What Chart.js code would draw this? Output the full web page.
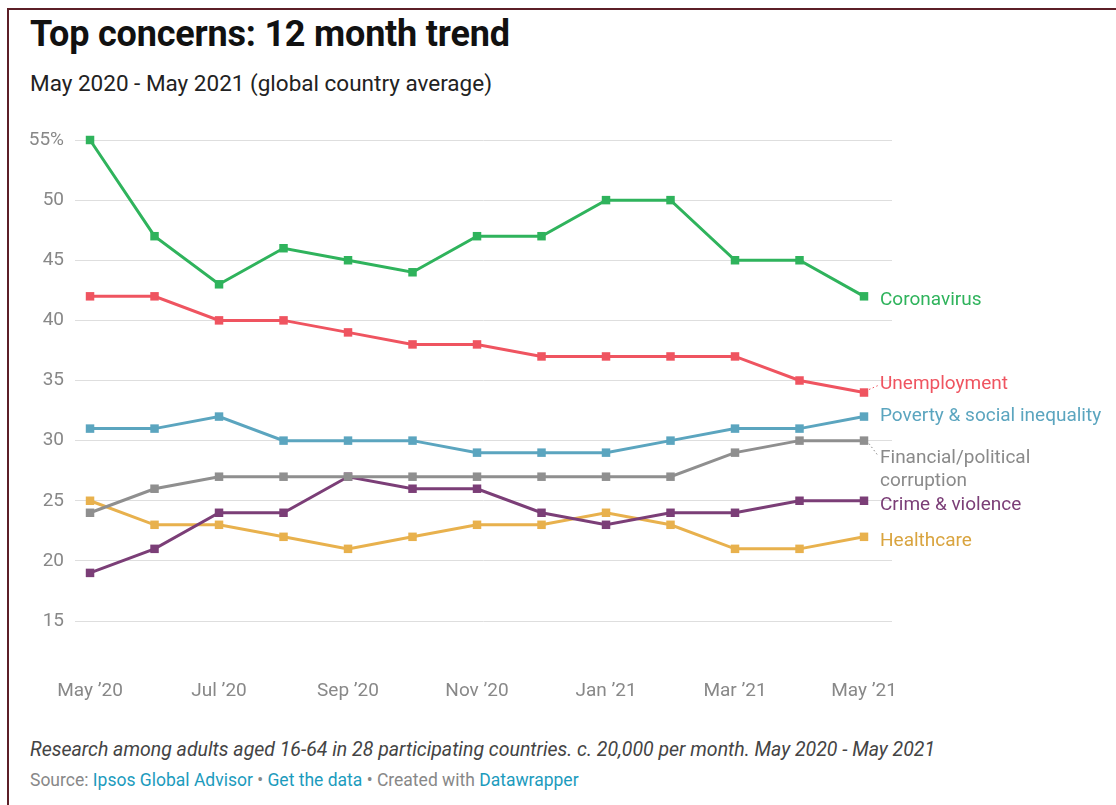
<!DOCTYPE html>
<html>
<head>
<meta charset="utf-8">
<script src="https://cdn.jsdelivr.net/npm/chart.js@4"></script>
<style>
  html, body { margin:0; padding:0; background:#fff; }
  body { width:1116px; height:805px; position:relative; overflow:hidden; font-family: Roboto, "Noto Sans", sans-serif; }
  .frame-top { position:absolute; left:7px; top:8px; width:1109px; height:2px; background:#5c1f27; }
  .frame-left { position:absolute; left:7px; top:8px; width:2px; height:797px; background:#5c1f27; }
  #title { position:absolute; left:30px; top:13px; font-size:36px; line-height:42px; font-weight:700; color:#111; letter-spacing:-0.2px; white-space:nowrap; }
  #subtitle { position:absolute; left:30px; top:70px; font-size:22.5px; line-height:26px; color:#222; white-space:nowrap; }
  #notes { position:absolute; left:30px; top:738px; font-size:19.5px; line-height:23px; font-style:italic; color:#444; white-space:nowrap; }
  #source { position:absolute; left:30px; top:770px; font-size:17.5px; line-height:21px; color:#888; white-space:nowrap; }
  #source a { color:#1c9bbd; text-decoration:none; }
  #wrap { position:absolute; left:0; top:100px; width:1116px; height:610px; }
</style>
</head>
<body>
<div class="frame-top"></div>
<div class="frame-left"></div>
<div id="title">Top concerns: 12 month trend</div>
<div id="subtitle">May 2020 - May 2021 (global country average)</div>
<div id="wrap"><canvas id="c"></canvas></div>
<div id="notes">Research among adults aged 16-64 in 28 participating countries. c. 20,000 per month. May 2020 - May 2021</div>
<div id="source">Source: <a>Ipsos Global Advisor</a> • <a>Get the data</a> • Created with <a>Datawrapper</a></div>
<script>
const months = ["May ’20","Jun ’20","Jul ’20","Aug ’20","Sep ’20","Oct ’20","Nov ’20","Dec ’20","Jan ’21","Feb ’21","Mar ’21","Apr ’21","May ’21"];
const xTickLabels = ["May ’20","Jul ’20","Sep ’20","Nov ’20","Jan ’21","Mar ’21","May ’21"];
const yTicks = [15,20,25,30,35,40,45,50,55];

const coronavirus  = [55,47,43,46,45,44,47,47,50,50,45,45,42];
const unemployment = [42,42,40,40,39,38,38,37,37,37,37,35,34];
const poverty      = [31,31,32,30,30,30,29,29,29,30,31,31,32];
const corruption   = [24,26,27,27,27,27,27,27,27,27,29,30,30];
const crime        = [19,21,24,24,27,26,26,24,23,24,24,25,25];
const healthcare   = [25,23,23,22,21,22,23,23,24,23,21,21,22];

const seriesNames = ["Coronavirus","Unemployment","Poverty & social inequality","Financial/political corruption","Crime & violence","Healthcare"];

const seriesDefs = [
  {name: seriesNames[0], data: coronavirus,  color:"#2fb35c", text:"#2fb35c", lines:["Coronavirus"], dy:4, conn:false},
  {name: seriesNames[1], data: unemployment, color:"#ef5460", text:"#ef5460", lines:["Unemployment"], dy:-8, conn:true},
  {name: seriesNames[2], data: poverty,      color:"#5ba5bf", text:"#5ba5bf", lines:["Poverty & social inequality"], dy:0, conn:false},
  {name: seriesNames[3], data: corruption,   color:"#8f8f8f", text:"#8a8a8a", lines:["Financial/political","corruption"], dy:18, conn:true},
  {name: seriesNames[4], data: crime,        color:"#7b3e77", text:"#7b3e77", lines:["Crime & violence"], dy:4, conn:false},
  {name: seriesNames[5], data: healthcare,   color:"#e8b14d", text:"#d9a43f", lines:["Healthcare"], dy:4, conn:false}
];

const datasets = seriesDefs.map(s => ({
  label: s.name,
  data: s.data.map((v,i) => ({x:i, y:v})),
  borderColor: s.color,
  backgroundColor: s.color,
  pointBackgroundColor: s.color,
  pointBorderColor: s.color,
  pointStyle: 'rect',
  pointRadius: 6,
  pointBorderWidth: 0,
  borderWidth: 3,
  tension: 0,
  clip: false
}));

const endLabels = {
  id: 'endLabels',
  afterDatasetsDraw(chart) {
    const ctx = chart.ctx;
    const xs = chart.scales.x, ys = chart.scales.y;
    ctx.save();
    ctx.font = '19px Roboto, "Noto Sans", sans-serif';
    ctx.textBaseline = 'middle';
    ctx.textAlign = 'left';
    seriesDefs.forEach(s => {
      const last = s.data.length - 1;
      const px = xs.getPixelForValue(last);
      const py = ys.getPixelForValue(s.data[last]);
      const lx = px + 16;
      let ly = py + s.dy;
      if (s.conn) {
        ctx.strokeStyle = s.text;
        ctx.lineWidth = 1;
        ctx.setLineDash([1.5, 2.5]);
        ctx.beginPath();
        ctx.moveTo(px + 5, py + (s.dy < 0 ? -3 : 3));
        ctx.lineTo(lx - 2, s.dy < 0 ? ly + 1 : ly - 3);
        ctx.stroke();
        ctx.setLineDash([]);
      }
      ctx.fillStyle = s.text;
      s.lines.forEach((t, k) => ctx.fillText(t, lx, ly + k * 23));
    });
    ctx.restore();
  }
};

new Chart(document.getElementById('c'), {
  type: 'line',
  data: { datasets },
  plugins: [endLabels],
  options: {
    responsive: true,
    maintainAspectRatio: false,
    animation: false,
    layout: { padding: { top: 40, right: 224, bottom: 0, left: 0 } },
    plugins: { legend: { display: false }, tooltip: { enabled: false } },
    scales: {
      x: {
        type: 'linear',
        min: -0.233,
        max: 12.434,
        afterBuildTicks: s => { s.ticks = xTickLabels.map(l => ({value: months.indexOf(l)})); },
        afterFit: s => { s.height = 89; s.paddingLeft = 0; s.paddingRight = 0; },
        grid: { display: false, drawTicks: false },
        border: { display: false },
        ticks: {
          padding: 59,
          color: '#888',
          font: { size: 19, family: 'Roboto, "Noto Sans", sans-serif' },
          callback: v => months[v],
          maxRotation: 0,
          autoSkip: false
        }
      },
      y: {
        min: 15,
        max: 55,
        afterBuildTicks: s => { s.ticks = yTicks.map(v => ({value: v})); },
        afterFit: s => { s.width = 75; s.paddingTop = 0; s.paddingBottom = 0; },
        grid: { color: '#dedede', lineWidth: 1, drawTicks: false },
        border: { display: false },
        ticks: {
          padding: 11,
          color: '#888',
          font: { size: 19, family: 'Roboto, "Noto Sans", sans-serif' },
          callback: v => v === 55 ? v + '%' : String(v)
        }
      }
    }
  }
});
</script>
</body>
</html>
